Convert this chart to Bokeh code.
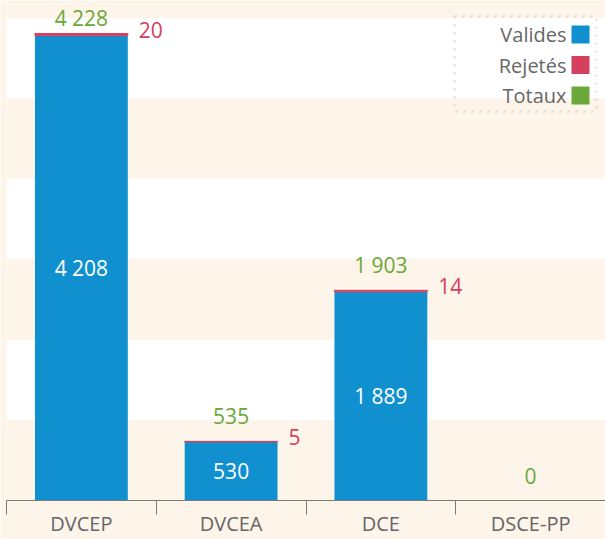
import numpy as np
from bokeh.plotting import figure
from bokeh.models import Range1d, FixedTicker, BoxAnnotation, Label, ColumnDataSource, LinearAxis
from bokeh.core.properties import value
from bokeh.embed import file_html
from bokeh.resources import INLINE

# ---- data ----
categories = ["DVCEP", "DVCEA", "DCE", "DSCE-PP"]
valides = [4208, 530, 1889, 0]
rejetes = [20, 5, 14, 0]
totaux = [4228, 535, 1903, 0]
legend_labels = ["Valides", "Rejetés", "Totaux"]

# ---- style ----
BLUE = "#1190d0"
RED = "#d5405f"
GREEN = "#6aa839"
CREAM = "#fdf4ea"
GREY = "#666666"
AXIS_GREY = "#7a7a7a"
FONT = "Open Sans"
FS = "20px"

W, H = 605, 539
LEFT = 6
YMAX = 4527
BAND = 728
BAR_W = 0.62
FRAME_H = 500.0

def fmt(v):
    return f"{v:,}".replace(",", " ")

n = len(categories)
xc = np.arange(n) + 0.5
val = np.array(valides, dtype=float)
rej = np.array(rejetes, dtype=float)
tot = np.array(totaux, dtype=float)

p = figure(width=W, height=H,
           x_range=Range1d(0, n), y_range=Range1d(0, YMAX),
           output_backend="svg", toolbar_location=None,
           x_axis_type=None, y_axis_type=None,
           min_border_left=LEFT, min_border_right=0, min_border_top=0, min_border_bottom=0,
           background_fill_color=CREAM, border_fill_color=CREAM,
           outline_line_color=None)

# alternating white bands
for lo in np.arange(BAND, YMAX, 2 * BAND):
    p.add_layout(BoxAnnotation(bottom=lo, top=lo + BAND, fill_color="white", fill_alpha=1,
                               line_color=None, level="underlay"))

# bars
p.vbar(x=xc, bottom=0, top=val, width=BAR_W, fill_color=BLUE, line_color=None)
p.vbar(x=xc, bottom=val, top=tot, width=BAR_W, fill_color=RED, line_color=RED,
       line_width=1, line_alpha=np.where(rej > 0, 1.0, 0.0).tolist(),
       fill_alpha=np.where(rej > 0, 1.0, 0.0).tolist())

# inner labels (valides)
m = val > 0
src_in = ColumnDataSource(dict(x=xc[m], y=val[m] / 2, t=[fmt(int(v)) for v in val[m]]))
p.text(x="x", y="y", text="t", source=src_in, text_align="center", text_baseline="middle",
       text_color="white", text_font=value(FONT), text_font_size="21px")

# totals labels
src_tot = ColumnDataSource(dict(x=xc, y=tot, t=[fmt(int(v)) for v in tot],
                                off=np.where(tot > 0.9 * YMAX, -16, -25).tolist()))
p.text(x="x", y="y", text="t", source=src_tot, y_offset="off", text_align="center",
       text_baseline="middle", text_color=GREEN, text_font=value(FONT), text_font_size="21px")

# rejected labels
mr = rej > 0
src_rej = ColumnDataSource(dict(x=xc[mr] + BAR_W / 2, y=tot[mr], t=[fmt(int(v)) for v in rej[mr]]))
p.text(x="x", y="y", text="t", source=src_rej, x_offset=11, y_offset=-4, text_align="left",
       text_baseline="middle", text_color=RED, text_font=value(FONT), text_font_size="21px")

# x axis: labels at centres, tick marks at boundaries
ax = LinearAxis(ticker=FixedTicker(ticks=xc.tolist(), minor_ticks=list(range(n + 1))),
                major_label_overrides={float(x): c for x, c in zip(xc, categories)})
ax.axis_line_color = AXIS_GREY
ax.major_tick_line_color = None
ax.major_tick_in = 0
ax.major_tick_out = 0
ax.minor_tick_line_color = AXIS_GREY
ax.minor_tick_in = 0
ax.minor_tick_out = 14
ax.major_label_standoff = -5
ax.major_label_text_font = FONT
ax.major_label_text_font_size = FS
ax.major_label_text_color = GREY
p.add_layout(ax, "below")

# custom legend (swatch on the right of the label)
def px2x(px):
    return (px - LEFT) / ((W - LEFT) / n)

def px2y(py):
    return (FRAME_H - py) / FRAME_H * YMAX

p.add_layout(BoxAnnotation(left=px2x(454), right=px2x(596), top=px2y(16), bottom=px2y(111),
                           fill_alpha=0, line_color="#a0a0a0", line_width=2.5, line_dash="2 6",
                           level="overlay"))
colors = [BLUE, RED, GREEN]
for i, (lab, col) in enumerate(zip(legend_labels, colors)):
    cy = 34 + 30.5 * i
    p.add_layout(Label(x=px2x(566), y=px2y(cy), text=lab, text_align="right",
                       text_baseline="middle", text_font=FONT, text_font_size=FS,
                       text_color=GREY))
    p.add_layout(BoxAnnotation(left=px2x(571), right=px2x(589), top=px2y(cy - 9),
                               bottom=px2y(cy + 9), fill_color=col, fill_alpha=1,
                               line_color=None, level="overlay"))

html = file_html(p, INLINE)
html = html.replace("<body>", f'<body style="background-color:{CREAM}">', 1)
open("out.html", "w").write(html)
